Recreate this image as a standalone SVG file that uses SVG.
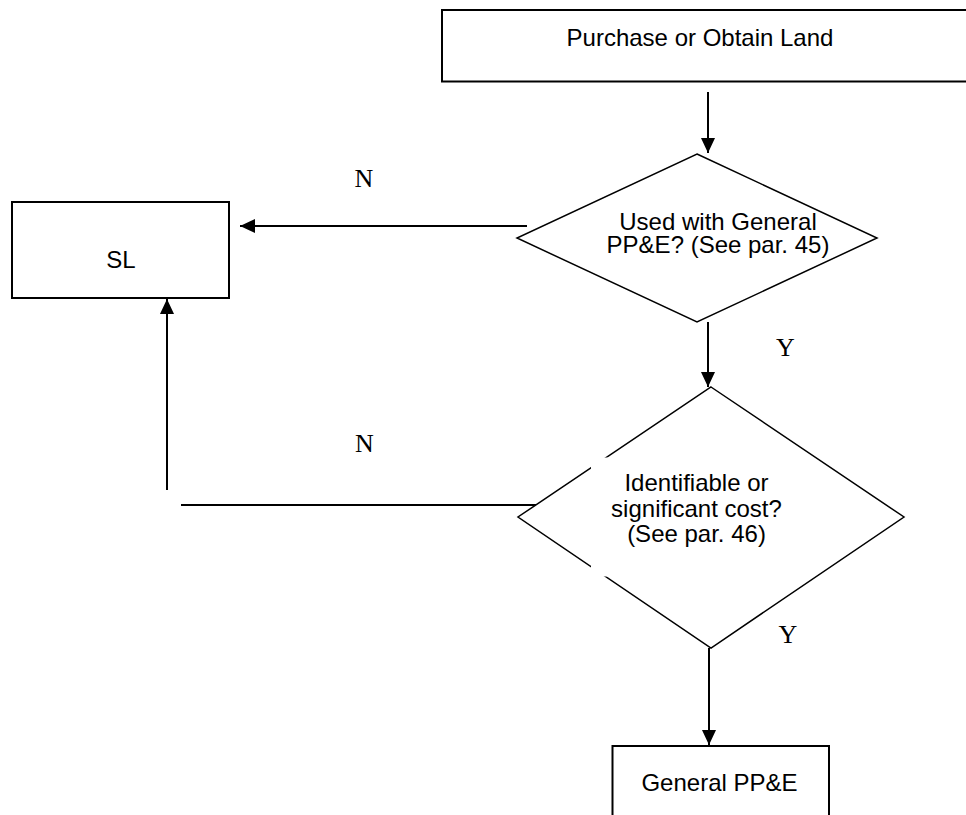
<svg xmlns="http://www.w3.org/2000/svg" width="966" height="815" viewBox="0 0 966 815">
<style>
.box{fill:#fff;stroke:#000;stroke-width:2}
.dia{fill:#fff;stroke:#000;stroke-width:1.5}
.t{font-family:"Liberation Sans",Arial,sans-serif;font-size:24px;fill:#000;text-anchor:middle}
.lbl{font-family:"Liberation Serif","Times New Roman",serif;font-size:26px;fill:#000;text-anchor:middle}
.con{fill:none;stroke:#000;stroke-width:2}
</style>
<defs>
<marker id="ah" markerUnits="userSpaceOnUse" markerWidth="15" markerHeight="14" refX="15" refY="7" orient="auto">
<path d="M0,0 L15,7 L0,14 Z" fill="#000"/>
</marker>
</defs>
<rect width="966" height="815" fill="#fff"/>
<g id="connectors">
<path class="con" d="M708,92 L708,153" marker-end="url(#ah)"/>
<path class="con" d="M527,226 L240,226" marker-end="url(#ah)"/>
<path class="con" d="M708,322 L708,387" marker-end="url(#ah)"/>
<path class="con" d="M167,490 L167,299" marker-end="url(#ah)"/>
<path class="con" d="M181,505 L536,505"/>
<path class="con" d="M709,648 L709,745" marker-end="url(#ah)"/>
</g>
<g id="start">
<rect class="box" x="442" y="10" width="535" height="71.5"/>
<text class="t" x="700" y="46">Purchase or Obtain Land</text>
</g>
<g id="sl">
<rect class="box" x="12" y="202" width="217" height="96"/>
<text class="t" x="121" y="268">SL</text>
</g>
<g id="decision1">
<polygon class="dia" points="697,154 877,238 697,322 517,238"/>
<text class="t" x="718" y="230" font-size="23">Used with General</text>
<text class="t" x="718" y="253" font-size="23">PP&amp;E? (See par. 45)</text>
</g>
<g id="decision2">
<polygon class="dia" points="711,387 904,517 711,648 518,517"/>
<rect x="591" y="457.5" width="200" height="119" fill="#fff"/>
<text class="t" x="696.5" y="491">Identifiable or</text>
<text class="t" x="696.5" y="517">significant cost?</text>
<text class="t" x="696.5" y="542">(See par. 46)</text>
</g>
<g id="general">
<rect class="box" x="612.5" y="746" width="216.5" height="80"/>
<text class="t" x="719.5" y="791">General PP&amp;E</text>
</g>
<g id="labels">
<text class="lbl" x="364" y="187">N</text>
<text class="lbl" x="785.5" y="356">Y</text>
<text class="lbl" x="364.5" y="452">N</text>
<text class="lbl" x="788" y="643">Y</text>
</g>
</svg>
